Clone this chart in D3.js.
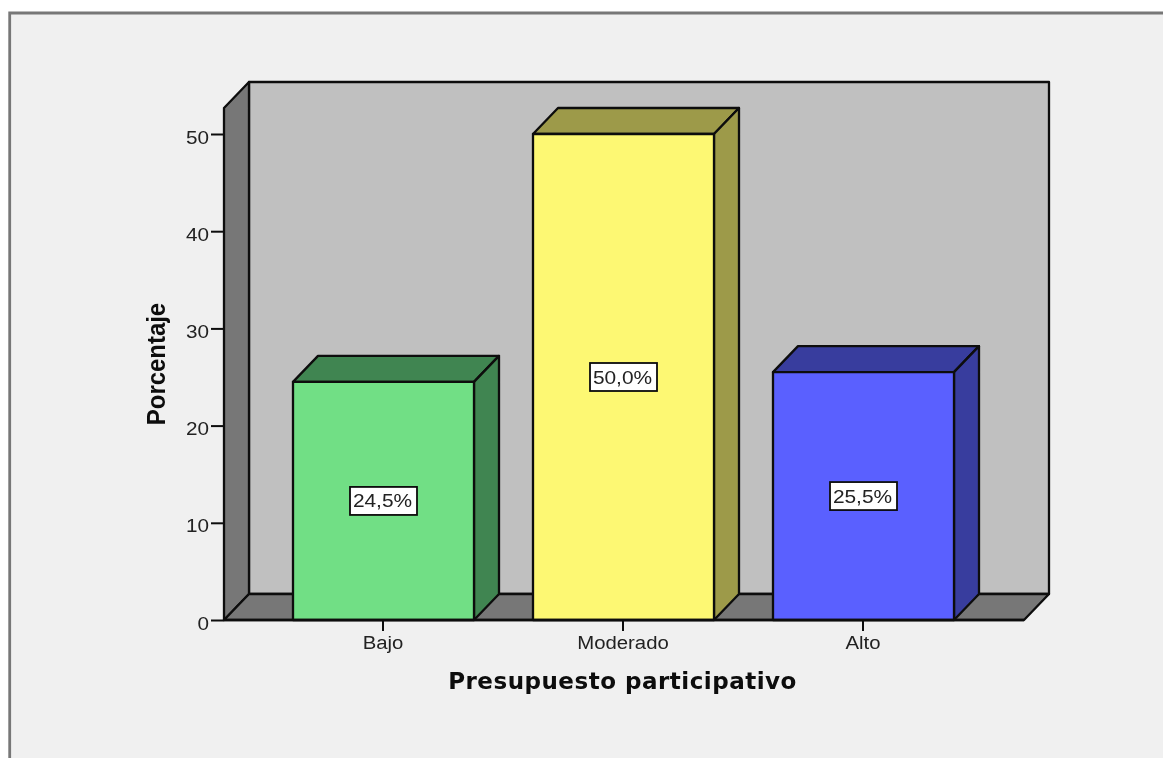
<!DOCTYPE html>
<html><head><meta charset="utf-8">
<script src="https://cdn.jsdelivr.net/npm/d3@7/dist/d3.min.js"></script>
<style>html,body{margin:0;padding:0;background:#fff}svg{display:block}</style>
</head><body><svg id="c" width="1163" height="758"></svg>
<script>
const categories = ["Bajo", "Moderado", "Alto"];
const values = [24.5, 50.0, 25.5];
const valueLabels = ["24,5%", "50,0%", "25,5%"];
const yTicks = [0, 10, 20, 30, 40, 50];
const frontColors = ["#71df85", "#fdf873", "#5a61ff"];
const topColors = ["#418551", "#9d9a4a", "#393d9e"];
const xTitle = "Presupuesto participativo";
const yTitle = "Porcentaje";

(function(){
const W = 1163, H = 758;
const depthX = 25, depthY = 26;
const leftX = 224, rightX = 1024, topY = 108;
const root = d3.select("#c");
const f = root.append("defs").append("filter").attr("id","soft")
  .attr("filterUnits","userSpaceOnUse").attr("x",0).attr("y",0).attr("width",W).attr("height",H);
f.append("feGaussianBlur").attr("stdDeviation",0.6);
const svg = root.append("g").attr("filter","url(#soft)");
const y = d3.scaleLinear().domain([0, 50]).range([620, 134]);
const x = d3.scaleBand().domain(categories).range([263.5, 983.5]).paddingInner(59/240).paddingOuter(59/480);
const line = d3.line();
const ink = "#0c0c0c";
// widen the glyphs: the reference's labels are horizontally stretched
const stretch = (sel, k) => sel.each(function(){
  const n = this.getComputedTextLength();
  d3.select(this).attr("textLength", n*k).attr("lengthAdjust","spacingAndGlyphs");
});

// panel
svg.append("rect").attr("x",10).attr("y",13).attr("width",W).attr("height",H).attr("fill","#f0f0f0");
svg.append("path").attr("d",line([[9.7,H+5],[9.7,13],[W+5,13]])).attr("fill","none").attr("stroke","#777").attr("stroke-width",2.8);

// walls
const poly = (pts, fill, sw=2.3) => svg.append("path").attr("d", line(pts)+"Z").attr("fill",fill)
  .attr("stroke",ink).attr("stroke-width",sw).attr("stroke-linejoin","round");
const y0 = y(0);
poly([[leftX+depthX,topY-depthY],[rightX+depthX,topY-depthY],[rightX+depthX,y0-depthY],[leftX+depthX,y0-depthY]],"#c0c0c0");
poly([[leftX,topY],[leftX+depthX,topY-depthY],[leftX+depthX,y0-depthY],[leftX,y0]],"#777777");
poly([[leftX,y0],[leftX+depthX,y0-depthY],[rightX+depthX,y0-depthY],[rightX,y0]],"#777777");

// axes
const yAxis = d3.axisLeft(y).tickValues(yTicks).tickSize(13).tickPadding(2).tickFormat(d3.format("d"));
const gy = svg.append("g").attr("transform",`translate(${leftX},0)`).call(yAxis);
gy.select(".domain").remove();
gy.selectAll("line").attr("stroke",ink).attr("stroke-width",2);
gy.selectAll("text").attr("font-family","Liberation Sans").attr("font-size",18).attr("fill","#222").attr("dy","0.5em").call(stretch,1.15);

const xAxis = d3.axisBottom(x).tickSize(11).tickPadding(4);
const gx = svg.append("g").attr("transform",`translate(-0.5,${y0})`).call(xAxis);
gx.select(".domain").remove();
gx.selectAll("line").attr("stroke",ink).attr("stroke-width",2);
gx.selectAll("text").attr("font-family","Liberation Sans").attr("font-size",18).attr("fill","#222").attr("y",16.5).attr("dy","0.71em").call(stretch,1.13);

// bars
categories.forEach((c,i)=>{
  const x0 = x(c), x1 = x0 + x.bandwidth(), yt = y(values[i]);
  poly([[x0,yt],[x0+depthX,yt-depthY],[x1+depthX,yt-depthY],[x1,yt]],topColors[i]);
  poly([[x1,yt],[x1+depthX,yt-depthY],[x1+depthX,y0-depthY],[x1,y0]],topColors[i]);
  poly([[x0,yt],[x1,yt],[x1,y0],[x0,y0]],frontColors[i]);
  const cx = x0 + x.bandwidth()/2, cy = (yt+y0)/2;
  svg.append("rect").attr("x",cx-33.5).attr("y",cy-14).attr("width",67).attr("height",28)
    .attr("fill","#fff").attr("stroke",ink).attr("stroke-width",1.8);
  svg.append("text").attr("x",cx-1).attr("y",cy+6.5).attr("text-anchor","middle")
    .attr("font-family","Liberation Sans").attr("font-size",18).attr("fill","#222").text(valueLabels[i]).call(stretch,1.16);
});

// baseline
svg.append("path").attr("d",line([[leftX,y0],[rightX,y0]])).attr("stroke",ink).attr("stroke-width",2.3).attr("fill","none");

// titles
svg.append("text").attr("x",622.5).attr("y",689).attr("text-anchor","middle")
  .attr("font-family","DejaVu Sans").attr("font-weight","bold").attr("font-size",23).attr("letter-spacing",0.5)
  .attr("fill","#0c0c0c").text(xTitle);
svg.append("text").attr("transform","translate(165,364) rotate(-90)").attr("text-anchor","middle")
  .attr("font-family","Liberation Sans").attr("font-weight","bold").attr("font-size",26).attr("fill","#0c0c0c").text(yTitle).call(stretch,0.92);
})();
</script></body></html>
